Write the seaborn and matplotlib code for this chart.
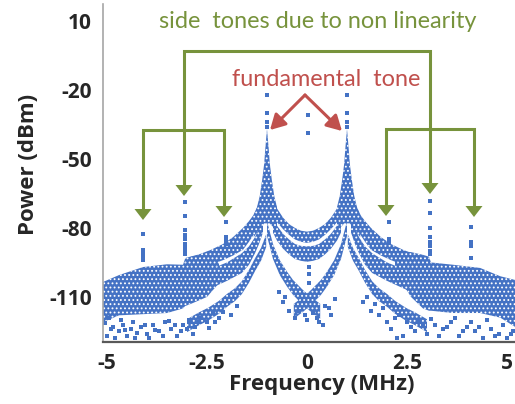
import numpy as np
import pandas as pd
import matplotlib
matplotlib.use('Agg')
import matplotlib.pyplot as plt
from matplotlib.lines import Line2D
from matplotlib.patches import Polygon, FancyArrowPatch
import seaborn as sns

# dense parts of the spectrum as (freq, top, bottom) bands
floor_l_f = [-5.1, -4.7, -4.1, -3.5, -3.1, -3.05, -2.9, -2.5, -2.2]
floor_l_top = [-103.5, -100.5, -97, -95.8, -96, -93.5, -92.5, -91, -90]
floor_l_bot = [-121, -118, -117.5, -117, -115, -114, -113, -110, -104]

floor_r_f = [2.2, 2.6, 2.9, 3.05, 3.1, 3.65, 4.33, 4.83, 5.2]
floor_r_top = [-90, -90.5, -91.7, -92.5, -95, -96, -97.4, -101, -102.6]
floor_r_bot = [-99, -110, -115, -116, -116, -117, -117, -119, -123]

# wing bands on the left side, mirrored to the right
wing_a_f = [-3.03, -2.7, -2.4, -2.1, -1.85, -1.6, -1.45, -1.3, -1.2, -1.12]
wing_a_top = [-93, -91.5, -89.5, -87, -84, -80, -77, -73.5, -69, -63]
wing_a_bot = [-100, -98, -96, -94, -92, -89.5, -86, -82, -78, -74]

wing_b_f = [-3.0, -2.5, -2.0, -1.63, -1.45, -1.3, -1.2, -1.1]
wing_b_top = [-100, -98.5, -95, -91, -88, -84, -80, -76]
wing_b_bot = [-110, -107, -103, -99.6, -96, -91, -87, -82]

wing_c_f = [-3.0, -2.7, -2.47, -2.2, -2.0, -1.8, -1.63, -1.45, -1.3, -1.15, -1.02]
wing_c_mid = [-122.5, -119.5, -117.5, -114.5, -111.5, -109, -106, -101, -96, -91.5, -85.5]

peak_f = [-1.33, -1.25, -1.18, -1.12, -1.07, -1.04, -1.0,
          -0.96, -0.93, -0.88, -0.82, -0.75]
peak_top = [-74, -71, -66, -59, -52, -45, -37, -45, -52, -59, -66, -71]
peak_bot = [-84, -82, -80, -79, -78, -78, -78, -78, -78, -79, -80, -82]

# the two U shaped bands between the fundamentals
u_f = [-0.85, -0.75, -0.6, -0.45, -0.3, -0.15, 0, 0.15, 0.3, 0.45, 0.6, 0.75, 0.85]
u1_top = [-67, -71.5, -75.5, -78.3, -80, -81.2, -81.6, -81.2, -80, -78.3, -75.5, -71.5, -67]
u1_bot = [-74, -77.5, -80.5, -83, -85, -86, -86.5, -86, -85, -83, -80.5, -77.5, -74]
u2_top = [-75, -79, -82.5, -85, -87, -87.8, -88, -87.8, -87, -85, -82.5, -79, -75]
u2_bot = [-82, -85.5, -89, -91.5, -93.5, -94.3, -94.7, -94.3, -93.5, -91.5, -89, -85.5, -82]

# curves falling from each fundamental towards the other one
cross_f = [-1.0, -0.85, -0.68, -0.5, -0.35, -0.1, 0.1, 0.33]
cross_mid = [-80, -90, -97, -102, -105.6, -110, -113, -116]

# single dots: fundamental and side tones
tone_f = [-1.0, -1.0, -1.0, -1.0, 1.0, 1.0, 1.0, 1.0, 0.02, 0.02,
          -4.1, -4.1, -4.1, -4.1, -4.1,
          -3.05, -3.05, -3.05, -3.05, -3.05, -3.05, -3.05, -3.05, -3.05,
          -2.03, -2.03, -2.03, -2.03,
          2.05, 2.05, 2.05,
          3.08, 3.08, 3.08, 3.08, 3.08, 3.08, 3.08, 3.08,
          4.1, 4.1, 4.1, 4.1]
tone_v = [-22, -30, -34, -36, -22, -30, -34, -36, -31, -38.6,
          -82.6, -89.6, -91, -92.5, -94,
          -68.6, -75, -80.9, -83, -85, -87, -88.5, -90, -91.5,
          -77.3, -84, -85.5, -87,
          -77.4, -85, -86.5,
          -68.1, -73.5, -80, -84, -86, -88, -90, -91.5,
          -79.4, -86, -88, -93]

# scattered low dots
low_f = [-5.05, -5.0, -4.95, -4.9, -4.85, -4.8, -4.7, -4.65, -4.6, -4.55, -4.5,
         -4.4, -4.35, -4.3, -4.25, -4.15, -4.05, -4.0, -3.95, -3.85, -3.8, -3.7,
         -3.6, -3.55, -3.45, -3.4, -3.3, -3.25, -3.15, -3.1, -3.0, -2.95, -2.85,
         -2.8, -2.7, -2.65, -2.5, -2.45, -2.35, -2.3, -2.2, -2.1, -1.9, -1.75,
         -0.7, -0.6, -0.55, -0.45, -0.3, -0.2, -0.05, 0.0, 0.05, 0.05, 0.05, 0.15,
         0.25, 0.3, 0.4, 0.45, 0.55, 0.6, 0.7,
         1.4, 1.5, 1.6, 1.7, 1.8, 1.9, 2.0, 2.1, 2.2, 2.25, 2.3, 2.4, 2.5, 2.6,
         2.7, 2.8, 2.9, 3.0, 3.1, 3.2, 3.3, 3.4, 3.5, 3.6, 3.7, 3.8, 3.9, 4.0,
         4.1, 4.2, 4.3, 4.4, 4.5, 4.6, 4.7, 4.8, 4.9, 5.0, 5.1, 5.15]
low_v = [-121.5, -127, -119, -124, -123, -128, -125, -120, -122, -124.5, -127,
         -124, -121, -128, -125.5, -123, -122, -126, -128, -122, -124.5, -125,
         -127, -121, -120.5, -124, -122, -127, -125, -122, -124, -120, -126,
         -123, -121, -119, -121, -123.5, -117, -121, -119, -116.5, -118, -114,
         -108, -112, -110, -116, -119, -116, -118, -120, -97, -100, -104, -117,
         -119, -121, -122, -114, -115, -118, -111,
         -112, -110, -116, -113, -118, -115, -121, -124, -119, -128, -118, -127,
         -121, -123, -125, -120, -122, -126, -119.5, -122, -127, -124, -123,
         -121, -119, -127, -125, -123, -121, -125, -123, -128, -120, -124,
         -127, -126, -122, -128, -126, -125]

blue = '#4472c4'
green = '#77933c'
red = '#c0504d'

sns.set_style('white')
plt.rcParams['font.family'] = ['Open Sans', 'DejaVu Sans']
plt.rcParams['axes.unicode_minus'] = False
plt.rcParams['hatch.linewidth'] = 0.8

W, H = 515, 404
fig = plt.figure(figsize=(W / 100, H / 100), dpi=100)
ax = fig.add_axes([103 / W, 62 / H, 1 - 103 / W, 338 / H])


def band(f, top, bot, mirror=False):
    f = np.asarray(f, float)
    kw = dict(facecolor=blue, edgecolor='white', hatch='....', lw=0)
    ax.fill_between(f, top, bot, **kw)
    if mirror:
        ax.fill_between(-f, top, bot, **kw)


band(floor_l_f, floor_l_top, floor_l_bot)
band(floor_r_f, floor_r_top, floor_r_bot)
band(wing_a_f, wing_a_top, wing_a_bot, mirror=True)
band(wing_b_f, wing_b_top, wing_b_bot, mirror=True)
band(wing_c_f, [v + 2.8 for v in wing_c_mid], [v - 2.8 for v in wing_c_mid], mirror=True)
band(peak_f, peak_top, peak_bot, mirror=True)
band(u_f, u1_top, u1_bot)
band(u_f, u2_top, u2_bot)
band(cross_f, [v + 3 for v in cross_mid], [v - 3.5 for v in cross_mid], mirror=True)

dots = pd.DataFrame({'f': tone_f + low_f, 'v': tone_v + low_v})
sns.scatterplot(data=dots, x='f', y='v', marker='s', s=7, color=blue,
                linewidth=0, ax=ax)

ax.set_xlim(-5.1, 5.2)
ax.set_ylim(-129.6, 17.4)
ax.set_xticks([-5, -2.5, 0, 2.5, 5])
ax.set_xticklabels(['-5', '-2.5', '0', '2.5', '5'])
ax.set_yticks([10, -20, -50, -80, -110])
ax.set_yticklabels(['10', '-20', '-50', '-80', '-110'])
ax.tick_params(axis='both', length=0, labelsize=15)
ax.tick_params(axis='x', pad=8)
ax.tick_params(axis='y', pad=8)
for lab in ax.get_xticklabels() + ax.get_yticklabels():
    lab.set_fontweight('bold')
for s in ['top', 'right']:
    ax.spines[s].set_visible(False)
ax.spines['left'].set_color('#a6a6a6')
ax.spines['left'].set_linewidth(1.2)
ax.spines['bottom'].set_color('#595959')
ax.spines['bottom'].set_linewidth(1.6)
ax.set_xlabel('Frequency (MHz)', fontsize=16, fontweight='bold')
ax.set_ylabel('Power (dBm)', fontsize=16, fontweight='bold')
ax.xaxis.set_label_coords(0.53, -0.095)
ax.yaxis.set_label_coords(-0.155, 0.524)


def P(x, y):
    return (x / W, 1 - y / H)


def path(pts, color):
    xs = [P(*p)[0] for p in pts]
    ys = [P(*p)[1] for p in pts]
    fig.add_artist(Line2D(xs, ys, color=color, lw=2.2, solid_joinstyle='miter',
                          transform=fig.transFigure))


def head(x, y_tip, color, w=17, h=11):
    pts = [P(x - w / 2, y_tip - h), P(x + w / 2, y_tip - h), P(x, y_tip)]
    fig.add_artist(Polygon(pts, closed=True, color=color, lw=0,
                           transform=fig.transFigure))


# green brackets
path([(184, 186), (184, 51), (430, 51), (430, 184)], green)
head(184, 196, green)
head(430, 194, green)
path([(143, 210), (143, 130), (224, 130), (224, 207)], green)
head(143, 220, green)
head(224, 217, green)
path([(386, 206), (386, 129), (474, 129), (474, 207)], green)
head(386, 216, green)
head(474, 217, green)

# red arrows
for tip in [(270, 130), (342, 131)]:
    fig.add_artist(FancyArrowPatch(
        P(305, 95), P(*tip), arrowstyle='-|>,head_length=9,head_width=5',
        color=red, lw=2.2, transform=fig.transFigure, shrinkA=0, shrinkB=0))

fig.text(*P(318, 21), 'side  tones due to non linearity', color=green,
         fontsize=16.9, ha='center', va='center', family=['Lato', 'DejaVu Sans'])
fig.text(*P(326, 79), 'fundamental  tone', color=red,
         fontsize=16.9, ha='center', va='center', family=['Lato', 'DejaVu Sans'])

fig.savefig('out.png', dpi=100)
